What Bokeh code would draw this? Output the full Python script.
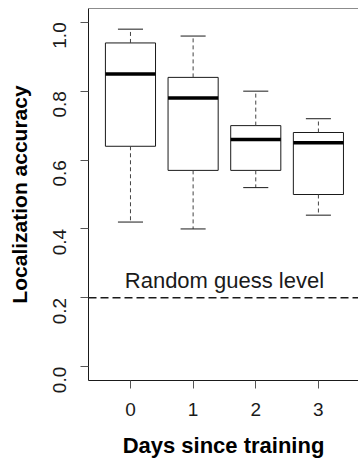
from math import pi
from bokeh.plotting import figure
from bokeh.models import Range1d, FixedTicker, Span, Label
from bokeh.embed import file_html
from bokeh.resources import INLINE

# ---- data ----
days = [0, 1, 2, 3]
day_labels = ["0", "1", "2", "3"]
whisker_low = [0.42, 0.40, 0.52, 0.44]
q1 = [0.64, 0.57, 0.57, 0.50]
median = [0.85, 0.78, 0.66, 0.65]
q3 = [0.94, 0.84, 0.70, 0.68]
whisker_high = [0.98, 0.96, 0.80, 0.72]
y_ticks = [0.0, 0.2, 0.4, 0.6, 0.8, 1.0]
y_tick_labels = ["0.0", "0.2", "0.4", "0.6", "0.8", "1.0"]
random_level = 0.2
random_text = "Random guess level"

FONT = "Liberation Sans"
INK = "#1a1a1a"
box_w = 0.8
cap_w = 0.4

x_start, x_end = -0.67, 3.64
y_start, y_end = -0.04, 1.04

p = figure(width=358, height=460, output_backend="svg", toolbar_location=None,
           x_range=Range1d(x_start, x_end), y_range=Range1d(y_start, y_end),
           min_border_left=88, min_border_right=0, min_border_top=8, min_border_bottom=78)
p.outline_line_color = None
p.xgrid.visible = False
p.ygrid.visible = False
p.background_fill_color = "white"
p.border_fill_color = "white"

# top border of the plot box (right side lies outside the picture)
p.add_layout(Span(location=y_end, dimension="width", line_color=INK, line_width=1))

# boxes
left = [d - box_w / 2 for d in days]
right = [d + box_w / 2 for d in days]
p.quad(left=left, right=right, bottom=q1, top=q3, fill_color="white",
       line_color=INK, line_width=1)
# whiskers (dashed)
p.segment(x0=days, y0=q3, x1=days, y1=whisker_high, line_color="#444444",
          line_width=1, line_dash="4 3")
p.segment(x0=days, y0=q1, x1=days, y1=whisker_low, line_color="#444444",
          line_width=1, line_dash="4 3")
# caps
cl = [d - cap_w / 2 for d in days]
cr = [d + cap_w / 2 for d in days]
p.segment(x0=cl, y0=whisker_high, x1=cr, y1=whisker_high, line_color=INK, line_width=1)
p.segment(x0=cl, y0=whisker_low, x1=cr, y1=whisker_low, line_color=INK, line_width=1)
# medians
p.segment(x0=left, y0=median, x1=right, y1=median, line_color="black", line_width=3.5)

# random guess level
p.add_layout(Span(location=random_level, dimension="width", line_color=INK,
                  line_width=1.5, line_dash="8 4"))
p.add_layout(Label(x=1.5, y=random_level + 0.015, text=random_text,
                   text_align="center", text_baseline="bottom",
                   text_font=FONT, text_font_size="22px", text_color=INK))

# axes
for ax in (p.xaxis[0], p.yaxis[0]):
    ax.axis_line_color = INK
    ax.axis_line_width = 1
    ax.major_tick_line_color = "#555555"
    ax.major_tick_in = 0
    ax.major_tick_out = 8
    ax.minor_tick_line_color = None
    ax.major_label_text_font = FONT
    ax.major_label_text_font_size = "19px"
    ax.major_label_text_color = INK
    ax.axis_label_text_font = FONT
    ax.axis_label_text_font_style = "bold"
    ax.axis_label_text_color = "black"

p.xaxis.ticker = FixedTicker(ticks=days)
p.xaxis.major_label_overrides = {d: l for d, l in zip(days, day_labels)}
p.xaxis.axis_label = "Days since training"
p.xaxis.axis_label_text_font_size = "22px"
p.xaxis.major_label_standoff = 14
p.xaxis.axis_label_standoff = 14

p.yaxis.ticker = FixedTicker(ticks=y_ticks)
p.yaxis.major_label_overrides = {t: l for t, l in zip(y_ticks, y_tick_labels)}
p.yaxis.major_label_orientation = pi / 2
p.yaxis.axis_label = "Localization accuracy"
p.yaxis.axis_label_text_font_size = "21px"
p.yaxis.major_label_standoff = 21
p.yaxis.axis_label_standoff = 13

open("out.html", "w").write(file_html(p, INLINE))
